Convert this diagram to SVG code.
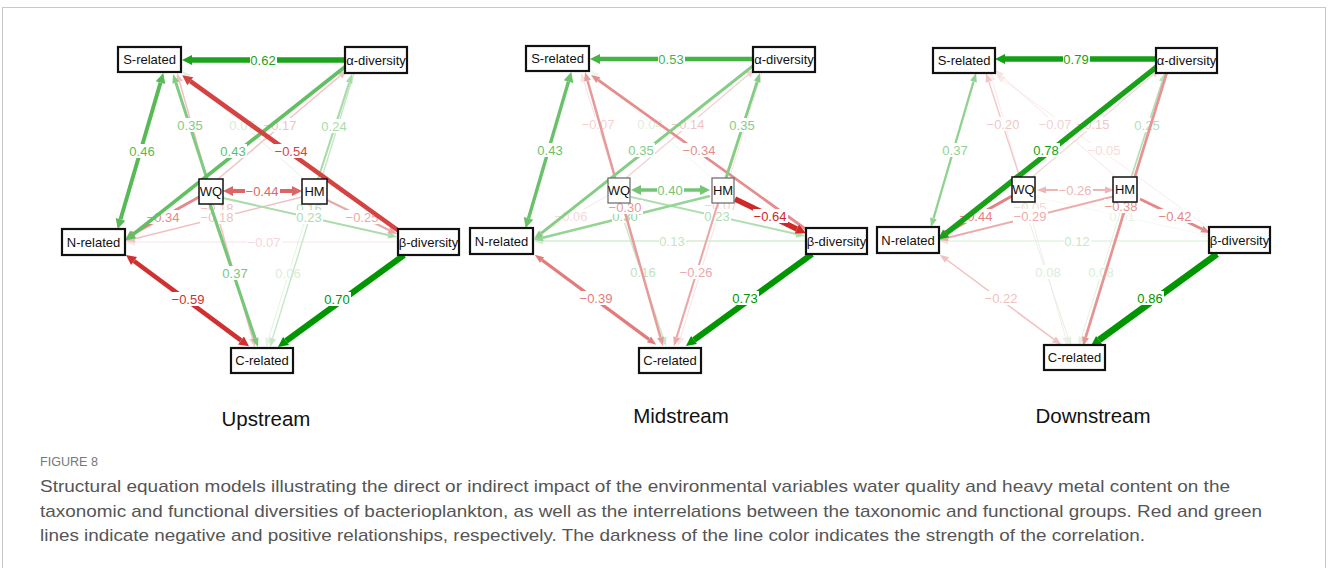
<svg xmlns="http://www.w3.org/2000/svg" width="1328" height="568" viewBox="0 0 1328 568">
<defs>
<style>
.e{fill:none}
.lb rect{fill:#fff}
.lb text{font-family:"Liberation Sans",Arial,sans-serif;font-size:13px;text-anchor:middle;dominant-baseline:central}
.nd rect{fill:#fff;stroke:#111;stroke-width:2.2}
.nd text{font-family:"Liberation Sans",Arial,sans-serif;font-size:13px;text-anchor:middle;dominant-baseline:central;fill:#111}
.sm rect{stroke-width:1.5}
.gr rect{stroke:#666;stroke-width:1.2}
.ttl{font-family:"Liberation Sans",Arial,sans-serif;font-size:20.5px;text-anchor:middle;fill:#111}
.cap{font-family:"Liberation Sans",Arial,sans-serif;font-size:17px;fill:#555}
</style>
<marker id="ms" markerUnits="userSpaceOnUse" orient="auto-start-reverse" markerWidth="14" markerHeight="14" viewBox="-2 -7 14 14" refX="0" refY="0" overflow="visible"><path d="M0,-3.5L9,0L0,3.5z" fill="context-stroke"/></marker>
<marker id="ml" markerUnits="userSpaceOnUse" orient="auto-start-reverse" markerWidth="14" markerHeight="14" viewBox="-2 -7 14 14" refX="0" refY="0" overflow="visible"><path d="M0,-5L10,0L0,5z" fill="context-stroke"/></marker>
</defs>
<rect x="2.5" y="7.5" width="1323" height="620" fill="#fff" stroke="#c8c8c8"/>

<!-- Panel 1: Upstream -->
<g id="upstream">
<g id="up-edges">
<g><path class="e" d="M310,204L268.6,338.4" stroke="#e4f3e4" stroke-width="1" marker-end="url(#ms)"/><g class="lb" transform="translate(288,273)"><rect x="-13" y="-7" width="27" height="14"/><text fill="#d8eed8">0.06</text></g></g>
<g><path class="e" d="M304,179L188.7,77" stroke="#e2f2e2" stroke-width="1" marker-end="url(#ms)"/><g class="lb" transform="translate(242,125)"><rect x="-13" y="-7" width="27" height="14"/><text fill="#d5edd5">0.07</text></g></g>
<g><path class="e" d="M398,242L135,242" stroke="#f8e0e0" stroke-width="1" marker-end="url(#ms)"/><g class="lb" transform="translate(264,242)"><rect x="-17" y="-7" width="35" height="14"/><text fill="#f6d6d6">−0.07</text></g></g>
<g><path class="e" d="M354,73L272.6,338.4" stroke="#c5e7c5" stroke-width="1.4" marker-end="url(#ms)"/><g class="lb" transform="translate(309,208)"><rect x="-13" y="-7" width="27" height="14"/><text fill="#b8e2b8">0.16</text></g></g>
<g><path class="e" d="M218,179L340.2,75.8" stroke="#f2c3c3" stroke-width="1.5" marker-end="url(#ms)"/><g class="lb" transform="translate(280,125)"><rect x="-17" y="-7" width="35" height="14"/><text fill="#f2c3c3">−0.17</text></g></g>
<g><path class="e" d="M179.5,81.6L252.5,338.4" stroke="#f1c0c0" stroke-width="1.5" marker-start="url(#ms)" marker-end="url(#ms)"/><g class="lb" transform="translate(217,208)"><rect x="-17" y="-7" width="35" height="14"/><text fill="#f1c0c0">−0.18</text></g></g>
<g><path class="e" d="M302,197L134.7,238.8" stroke="#f1c0c0" stroke-width="1.5" marker-end="url(#ms)"/><g class="lb" transform="translate(217,217)"><rect x="-17" y="-7" width="35" height="14"/><text fill="#f1c0c0">−0.18</text></g></g>
<g><path class="e" d="M223,198L388.2,235" stroke="#abdcab" stroke-width="2" marker-end="url(#ms)"/><g class="lb" transform="translate(309,217)"><rect x="-13" y="-7" width="27" height="14"/><text fill="#abdcab">0.23</text></g></g>
<g><path class="e" d="M318,179L349.2,82.6" stroke="#a8dba8" stroke-width="2.1" marker-end="url(#ms)"/><g class="lb" transform="translate(334,126)"><rect x="-13" y="-7" width="27" height="14"/><text fill="#a8dba8">0.24</text></g></g>
<g><path class="e" d="M327,200L388.9,230" stroke="#eba8a8" stroke-width="2.1" marker-end="url(#ms)"/><g class="lb" transform="translate(362,217)"><rect x="-17" y="-7" width="35" height="14"/><text fill="#eba8a8">−0.25</text></g></g>
<g><path class="e" d="M199,197L133.8,233.6" stroke="#e48888" stroke-width="2.9" marker-end="url(#ms)"/><g class="lb" transform="translate(163,217)"><rect x="-17" y="-7" width="35" height="14"/><text fill="#e48888">−0.34</text></g></g>
<g><path class="e" d="M207,179L175.8,82.6" stroke="#80cb80" stroke-width="3" marker-end="url(#ms)"/><g class="lb" transform="translate(190,125)"><rect x="-13" y="-7" width="27" height="14"/><text fill="#80cb80">0.35</text></g></g>
<g><path class="e" d="M210,204L255.1,338.5" stroke="#78c778" stroke-width="3.2" marker-end="url(#ms)"/><g class="lb" transform="translate(235,273)"><rect x="-13" y="-7" width="27" height="14"/><text fill="#78c778">0.37</text></g></g>
<g><path class="e" d="M346,66L133.1,234.4" stroke="#62bf62" stroke-width="3.7" marker-end="url(#ml)"/><g class="lb" transform="translate(233,151)"><rect x="-13" y="-7" width="27" height="14"/><text fill="#62bf62">0.43</text></g></g>
<g><path class="e" d="M233,191L292,191" stroke="#dc6565" stroke-width="3.8" marker-start="url(#ml)" marker-end="url(#ml)"/><g class="lb" transform="translate(262,191)"><rect x="-17" y="-7" width="35" height="14"/><text fill="#dc6565">−0.44</text></g></g>
<g><path class="e" d="M160.5,82.6L120.5,219.4" stroke="#57ba57" stroke-width="3.9" marker-start="url(#ml)" marker-end="url(#ml)"/><g class="lb" transform="translate(142,151)"><rect x="-13" y="-7" width="27" height="14"/><text fill="#57ba57">0.46</text></g></g>
<g><path class="e" d="M399,231L190.3,81.2" stroke="#d54242" stroke-width="4.6" marker-end="url(#ml)"/><g class="lb" transform="translate(291,151)"><rect x="-17" y="-7" width="35" height="14"/><text fill="#d54242">−0.54</text></g></g>
<g><path class="e" d="M134,261L241,340.4" stroke="#d13030" stroke-width="4.6" marker-start="url(#ml)" marker-end="url(#ml)"/><g class="lb" transform="translate(188,299)"><rect x="-17" y="-7" width="35" height="14"/><text fill="#d13030">−0.59</text></g></g>
<g><path class="e" d="M345,60L192,60" stroke="#1da21d" stroke-width="5.3" marker-end="url(#ml)"/><g class="lb" transform="translate(263,60)"><rect x="-13" y="-7" width="27" height="14"/><text fill="#1da21d">0.62</text></g></g>
<g><path class="e" d="M404,255L286,341" stroke="#009600" stroke-width="6" marker-end="url(#ml)"/><g class="lb" transform="translate(337,299)"><rect x="-13" y="-7" width="27" height="14"/><text fill="#009600">0.70</text></g></g>
</g>
<g id="up-S" class="nd"><rect x="118" y="47" width="63" height="25"/><text x="149.5" y="59.5">S-related</text></g>
<g id="up-alpha" class="nd"><rect x="345" y="47" width="62" height="26"/><text x="376" y="60">α-diversity</text></g>
<g id="up-WQ" class="nd sm"><rect x="199" y="179" width="24" height="25"/><text x="211" y="191.5">WQ</text></g>
<g id="up-HM" class="nd sm"><rect x="302" y="179" width="25" height="25"/><text x="314.5" y="191.5">HM</text></g>
<g id="up-N" class="nd"><rect x="62" y="229" width="63" height="26"/><text x="93.5" y="242">N-related</text></g>
<g id="up-beta" class="nd"><rect x="398" y="229" width="61" height="26"/><text x="428.5" y="242">β-diversity</text></g>
<g id="up-C" class="nd"><rect x="231" y="348" width="62" height="25"/><text x="262" y="360.5">C-related</text></g>
<text class="ttl" x="266" y="426">Upstream</text>
</g>

<!-- Panel 2: Midstream -->
<g id="midstream" transform="translate(408,-1)">
<g id="mid-edges">
<g><path class="e" d="M304,179L188.7,77" stroke="#eef7ee" stroke-width="1" marker-end="url(#ms)"/><g class="lb" transform="translate(242,125)"><rect x="-13" y="-7" width="27" height="14"/><text fill="#deefde">0.04</text></g></g>
<g><path class="e" d="M199,197L133.8,233.6" stroke="#f9e6e6" stroke-width="1" marker-end="url(#ms)"/><g class="lb" transform="translate(163,217)"><rect x="-17" y="-7" width="35" height="14"/><text fill="#f6d8d8">−0.06</text></g></g>
<g><path class="e" d="M207,179L175.8,82.6" stroke="#f8e2e2" stroke-width="1" marker-end="url(#ms)"/><g class="lb" transform="translate(190,125)"><rect x="-17" y="-7" width="35" height="14"/><text fill="#f4d2d2">−0.07</text></g></g>
<g><path class="e" d="M354,73L272.6,338.4" stroke="#f8e2e2" stroke-width="1" marker-end="url(#ms)"/><g class="lb" transform="translate(313,206)"><rect x="-17" y="-7" width="35" height="14"/><text fill="#f4d2d2">−0.07</text></g></g>
<g><path class="e" d="M398,242L135,242" stroke="#d2ecd2" stroke-width="1.4" marker-end="url(#ms)"/><g class="lb" transform="translate(264,242)"><rect x="-13" y="-7" width="27" height="14"/><text fill="#c2e5c2">0.13</text></g></g>
<g><path class="e" d="M218,179L340.2,75.8" stroke="#f4d0d0" stroke-width="1.3" marker-end="url(#ms)"/><g class="lb" transform="translate(280,125)"><rect x="-17" y="-7" width="35" height="14"/><text fill="#f0c4c4">−0.14</text></g></g>
<g><path class="e" d="M210,204L255.1,338.5" stroke="#c7e8c7" stroke-width="1.4" marker-end="url(#ms)"/><g class="lb" transform="translate(235,273)"><rect x="-13" y="-7" width="27" height="14"/><text fill="#bde3bd">0.16</text></g></g>
<g><path class="e" d="M223,198L388.2,235" stroke="#afdeaf" stroke-width="1.9" marker-end="url(#ms)"/><g class="lb" transform="translate(309,217)"><rect x="-13" y="-7" width="27" height="14"/><text fill="#afdeaf">0.23</text></g></g>
<g><path class="e" d="M310,204L268.6,338.4" stroke="#eba8a8" stroke-width="2.1" marker-end="url(#ms)"/><g class="lb" transform="translate(288,273)"><rect x="-17" y="-7" width="35" height="14"/><text fill="#eba8a8">−0.26</text></g></g>
<g><path class="e" d="M302,197L134.7,238.8" stroke="#96d496" stroke-width="2.5" marker-end="url(#ms)"/><g class="lb" transform="translate(217,217)"><rect x="-13" y="-7" width="27" height="14"/><text fill="#96d496">0.30</text></g></g>
<g><path class="e" d="M179.5,81.6L252.5,338.4" stroke="#e89a9a" stroke-width="2.5" marker-start="url(#ms)" marker-end="url(#ms)"/><g class="lb" transform="translate(217,208)"><rect x="-17" y="-7" width="35" height="14"/><text fill="#e89a9a">−0.30</text></g></g>
<g><path class="e" d="M399,231L190.3,81.2" stroke="#e58d8d" stroke-width="2.8" marker-end="url(#ms)"/><g class="lb" transform="translate(291,151)"><rect x="-17" y="-7" width="35" height="14"/><text fill="#e58d8d">−0.34</text></g></g>
<g><path class="e" d="M346,66L133.1,234.4" stroke="#85cd85" stroke-width="2.9" marker-end="url(#ms)"/><g class="lb" transform="translate(233,151)"><rect x="-13" y="-7" width="27" height="14"/><text fill="#85cd85">0.35</text></g></g>
<g><path class="e" d="M318,179L349.2,82.6" stroke="#85cd85" stroke-width="2.9" marker-end="url(#ms)"/><g class="lb" transform="translate(334,126)"><rect x="-13" y="-7" width="27" height="14"/><text fill="#85cd85">0.35</text></g></g>
<g><path class="e" d="M134,261L241,340.4" stroke="#e27c7c" stroke-width="3.2" marker-start="url(#ms)" marker-end="url(#ms)"/><g class="lb" transform="translate(188,299)"><rect x="-17" y="-7" width="35" height="14"/><text fill="#e27c7c">−0.39</text></g></g>
<g><path class="e" d="M233,191L292,191" stroke="#73c573" stroke-width="3.3" marker-start="url(#ml)" marker-end="url(#ml)"/><g class="lb" transform="translate(262,191)"><rect x="-13" y="-7" width="27" height="14"/><text fill="#73c573">0.40</text></g></g>
<g><path class="e" d="M160.5,82.6L120.5,219.4" stroke="#69c169" stroke-width="3.4" marker-start="url(#ml)" marker-end="url(#ml)"/><g class="lb" transform="translate(142,151)"><rect x="-13" y="-7" width="27" height="14"/><text fill="#69c169">0.43</text></g></g>
<g><path class="e" d="M345,60L192,60" stroke="#46b346" stroke-width="4.4" marker-end="url(#ml)"/><g class="lb" transform="translate(263,60)"><rect x="-13" y="-7" width="27" height="14"/><text fill="#46b346">0.53</text></g></g>
<g><path class="e" d="M327,200L388.9,230" stroke="#cf2828" stroke-width="5.3" marker-end="url(#ml)"/><g class="lb" transform="translate(362,217)"><rect x="-17" y="-7" width="35" height="14"/><text fill="#cf2828">−0.64</text></g></g>
<g><path class="e" d="M404,255L286,341" stroke="#009600" stroke-width="6" marker-end="url(#ml)"/><g class="lb" transform="translate(337,299)"><rect x="-13" y="-7" width="27" height="14"/><text fill="#009600">0.73</text></g></g>
</g>
<g id="mid-S" class="nd"><rect x="118" y="47" width="63" height="25"/><text x="149.5" y="59.5">S-related</text></g>
<g id="mid-alpha" class="nd"><rect x="345" y="48" width="62" height="25"/><text x="376" y="60.5">α-diversity</text></g>
<g id="mid-WQ" class="nd gr"><rect x="200" y="179" width="22" height="25"/><text x="211" y="191.5">WQ</text></g>
<g id="mid-HM" class="nd gr"><rect x="304" y="179" width="22" height="25"/><text x="315" y="191.5">HM</text></g>
<g id="mid-N" class="nd"><rect x="62" y="229" width="63" height="26"/><text x="93.5" y="242">N-related</text></g>
<g id="mid-beta" class="nd"><rect x="398" y="229" width="61" height="26"/><text x="428.5" y="242">β-diversity</text></g>
<g id="mid-C" class="nd"><rect x="231" y="349" width="62" height="25"/><text x="262" y="361.5">C-related</text></g>
<text class="ttl" x="273" y="424">Midstream</text>
</g>

<!-- Panel 3: Downstream -->
<g id="downstream" transform="translate(813,-1)">
<g id="down-edges">
<g><path class="e" d="M223,198L388.2,235" stroke="#f4faf4" stroke-width="1" marker-end="url(#ms)"/><g class="lb" transform="translate(309,217)"><rect x="-13" y="-7" width="27" height="14"/><text fill="#e6f3e6">0.01</text></g></g>
<g><path class="e" d="M399,231L190.3,81.2" stroke="#faeaea" stroke-width="1" marker-end="url(#ms)"/><g class="lb" transform="translate(291,151)"><rect x="-17" y="-7" width="35" height="14"/><text fill="#f6dada">−0.05</text></g></g>
<g><path class="e" d="M179.5,81.6L252.5,338.4" stroke="#faeaea" stroke-width="1" marker-start="url(#ms)" marker-end="url(#ms)"/><g class="lb" transform="translate(217,208)"><rect x="-17" y="-7" width="35" height="14"/><text fill="#f6dada">−0.05</text></g></g>
<g><path class="e" d="M304,179L188.7,77" stroke="#f8e4e4" stroke-width="1" marker-end="url(#ms)"/><g class="lb" transform="translate(242,125)"><rect x="-17" y="-7" width="35" height="14"/><text fill="#f4d2d2">−0.07</text></g></g>
<g><path class="e" d="M210,204L255.1,338.5" stroke="#e2f2e2" stroke-width="1" marker-end="url(#ms)"/><g class="lb" transform="translate(235,273)"><rect x="-13" y="-7" width="27" height="14"/><text fill="#d8eed8">0.08</text></g></g>
<g><path class="e" d="M310,204L268.6,338.4" stroke="#e2f2e2" stroke-width="1" marker-end="url(#ms)"/><g class="lb" transform="translate(288,273)"><rect x="-13" y="-7" width="27" height="14"/><text fill="#d8eed8">0.08</text></g></g>
<g><path class="e" d="M398,242L135,242" stroke="#d8eed8" stroke-width="1.1" marker-end="url(#ms)"/><g class="lb" transform="translate(264,242)"><rect x="-13" y="-7" width="27" height="14"/><text fill="#c8e8c8">0.12</text></g></g>
<g><path class="e" d="M218,179L340.2,75.8" stroke="#f5d4d4" stroke-width="1.1" marker-end="url(#ms)"/><g class="lb" transform="translate(280,125)"><rect x="-17" y="-7" width="35" height="14"/><text fill="#f0c6c6">−0.15</text></g></g>
<g><path class="e" d="M207,179L175.8,82.6" stroke="#f2c6c6" stroke-width="1.4" marker-end="url(#ms)"/><g class="lb" transform="translate(190,125)"><rect x="-17" y="-7" width="35" height="14"/><text fill="#f2c6c6">−0.20</text></g></g>
<g><path class="e" d="M134,261L241,340.4" stroke="#f1c0c0" stroke-width="1.5" marker-start="url(#ms)" marker-end="url(#ms)"/><g class="lb" transform="translate(188,299)"><rect x="-17" y="-7" width="35" height="14"/><text fill="#f1c0c0">−0.22</text></g></g>
<g><path class="e" d="M318,179L349.2,82.6" stroke="#b5e0b5" stroke-width="1.7" marker-end="url(#ms)"/><g class="lb" transform="translate(334,126)"><rect x="-13" y="-7" width="27" height="14"/><text fill="#b5e0b5">0.25</text></g></g>
<g><path class="e" d="M233,191L292,191" stroke="#eeb5b5" stroke-width="1.8" marker-start="url(#ms)" marker-end="url(#ms)"/><g class="lb" transform="translate(262,191)"><rect x="-17" y="-7" width="35" height="14"/><text fill="#eeb5b5">−0.26</text></g></g>
<g><path class="e" d="M302,197L134.7,238.8" stroke="#ecacac" stroke-width="2" marker-end="url(#ms)"/><g class="lb" transform="translate(217,217)"><rect x="-17" y="-7" width="35" height="14"/><text fill="#ecacac">−0.29</text></g></g>
<g><path class="e" d="M160.5,82.6L120.5,219.4" stroke="#91d291" stroke-width="2.3" marker-start="url(#ms)" marker-end="url(#ms)"/><g class="lb" transform="translate(142,151)"><rect x="-13" y="-7" width="27" height="14"/><text fill="#91d291">0.37</text></g></g>
<g><path class="e" d="M354,73L272.6,338.4" stroke="#e79393" stroke-width="2.7" marker-end="url(#ms)"/><g class="lb" transform="translate(308,207)"><rect x="-17" y="-7" width="35" height="14"/><text fill="#e79393">−0.38</text></g></g>
<g><path class="e" d="M327,200L388.9,230" stroke="#e48787" stroke-width="2.9" marker-end="url(#ms)"/><g class="lb" transform="translate(362,217)"><rect x="-17" y="-7" width="35" height="14"/><text fill="#e48787">−0.42</text></g></g>
<g><path class="e" d="M199,197L133.8,233.6" stroke="#e38282" stroke-width="3.1" marker-end="url(#ms)"/><g class="lb" transform="translate(163,217)"><rect x="-17" y="-7" width="35" height="14"/><text fill="#e38282">−0.44</text></g></g>
<g><path class="e" d="M346,66L133.1,234.4" stroke="#18a018" stroke-width="5.4" marker-end="url(#ml)"/><g class="lb" transform="translate(233,151)"><rect x="-13" y="-7" width="27" height="14"/><text fill="#18a018">0.78</text></g></g>
<g><path class="e" d="M345,60L192,60" stroke="#159f15" stroke-width="5.5" marker-end="url(#ml)"/><g class="lb" transform="translate(263,60)"><rect x="-13" y="-7" width="27" height="14"/><text fill="#159f15">0.79</text></g></g>
<g><path class="e" d="M404,255L286,341" stroke="#009600" stroke-width="6.5" marker-end="url(#ml)"/><g class="lb" transform="translate(337,299)"><rect x="-13" y="-7" width="27" height="14"/><text fill="#009600">0.86</text></g></g>
</g>
<g id="down-S" class="nd"><rect x="120" y="49" width="62" height="25"/><text x="151" y="61.5">S-related</text></g>
<g id="down-alpha" class="nd"><rect x="343" y="49" width="61" height="25"/><text x="373.5" y="61.5">α-diversity</text></g>
<g id="down-WQ" class="nd sm"><rect x="199" y="178" width="23" height="25"/><text x="210.5" y="190.5">WQ</text></g>
<g id="down-HM" class="nd sm"><rect x="300" y="178" width="24" height="25"/><text x="312" y="190.5">HM</text></g>
<g id="down-N" class="nd"><rect x="64" y="228" width="62" height="26"/><text x="95" y="241">N-related</text></g>
<g id="down-beta" class="nd"><rect x="396" y="228" width="61" height="26"/><text x="426.5" y="241">β-diversity</text></g>
<g id="down-C" class="nd"><rect x="231" y="346" width="61" height="25"/><text x="261.5" y="358.5">C-related</text></g>
<text class="ttl" x="280" y="424">Downstream</text>
</g>

<!-- Caption -->
<text x="40" y="466" font-family="Liberation Sans, Arial, sans-serif" font-size="12" fill="#777" textLength="58" lengthAdjust="spacingAndGlyphs">FIGURE 8</text>
<text class="cap" x="40" y="492" textLength="1190" lengthAdjust="spacingAndGlyphs">Structural equation models illustrating the direct or indirect impact of the environmental variables water quality and heavy metal content on the</text>
<text class="cap" x="40" y="517" textLength="1222" lengthAdjust="spacingAndGlyphs">taxonomic and functional diversities of bacterioplankton, as well as the interrelations between the taxonomic and functional groups. Red and green</text>
<text class="cap" x="40" y="541" textLength="1105" lengthAdjust="spacingAndGlyphs">lines indicate negative and positive relationships, respectively. The darkness of the line color indicates the strength of the correlation.</text>
</svg>
